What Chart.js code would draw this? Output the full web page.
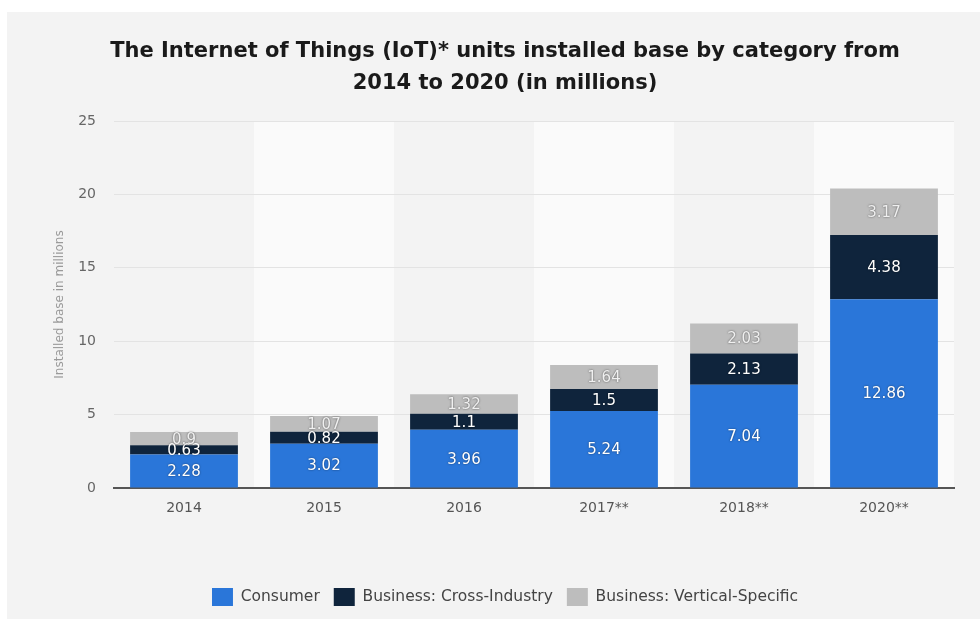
<!DOCTYPE html>
<html>
<head>
<meta charset="utf-8">
<script src="https://cdn.jsdelivr.net/npm/chart.js@4.4.1/dist/chart.umd.min.js"></script>
<style>
  html, body { margin: 0; padding: 0; background: #ffffff; }
  #wrap { width: 980px; height: 619px; position: relative; }
</style>
</head>
<body>
<div id="wrap"><canvas id="c" width="980" height="619"></canvas></div>
<script>
// ---- data ----
const categories = ['2014', '2015', '2016', '2017**', '2018**', '2020**'];
const consumer = [2.28, 3.02, 3.96, 5.24, 7.04, 12.86];
const crossIndustry = [0.63, 0.82, 1.1, 1.5, 2.13, 4.38];
const verticalSpecific = [0.9, 1.07, 1.32, 1.64, 2.03, 3.17];
const seriesNames = ['Consumer', 'Business: Cross-Industry', 'Business: Vertical-Specific'];
const yTicks = [0, 5, 10, 15, 20, 25];

const FONT = "'DejaVu Sans', sans-serif";

// background panel + alternating column bands
const bgPlugin = {
  id: 'bgPanel',
  beforeDraw(chart) {
    const ctx = chart.ctx;
    const area = chart.chartArea;
    const xs = chart.scales.x;
    ctx.save();
    ctx.fillStyle = '#ffffff';
    ctx.fillRect(0, 0, chart.width, chart.height);
    ctx.fillStyle = '#f3f3f3';
    ctx.fillRect(7, 12, chart.width - 7, chart.height - 12);
    const step = (area.right - area.left) / categories.length;
    ctx.fillStyle = '#fafafa';
    categories.forEach((c, i) => {
      if (i % 2 === 1) {
        const cx = xs.getPixelForValue(i);
        ctx.fillRect(cx - step / 2, area.top, step, area.bottom - area.top);
      }
    });
    ctx.restore();
  }
};

// value labels inside segments
const labelPlugin = {
  id: 'segLabels',
  afterDatasetsDraw(chart) {
    const ctx = chart.ctx;
    ctx.save();
    ctx.font = "15px " + FONT;
    ctx.textAlign = 'center';
    ctx.textBaseline = 'middle';
    chart.data.datasets.forEach((ds, di) => {
      const meta = chart.getDatasetMeta(di);
      meta.data.forEach((el, i) => {
        const v = ds.data[i];
        const y = (el.y + el.base) / 2;
        ctx.shadowColor = di === 2 ? 'rgba(60,60,60,0.9)' : 'rgba(0,0,0,0.55)';
        ctx.shadowBlur = 2;
        ctx.shadowOffsetX = 0;
        ctx.shadowOffsetY = 0;
        ctx.fillStyle = di === 2 ? '#f0f0f0' : '#ffffff';
        ctx.fillText(String(v), el.x, y + 1);
      });
    });
    ctx.restore();
  }
};

new Chart(document.getElementById('c'), {
  type: 'bar',
  data: {
    labels: categories,
    datasets: [
      { label: seriesNames[0], data: consumer, backgroundColor: '#2a76d9' },
      { label: seriesNames[1], data: crossIndustry, backgroundColor: '#0f243c' },
      { label: seriesNames[2], data: verticalSpecific, backgroundColor: '#bdbdbd' }
    ]
  },
  options: {
    responsive: false,
    animation: false,
    devicePixelRatio: 1,
    datasets: { bar: { categoryPercentage: 1.0, barPercentage: 0.77 } },
    layout: { padding: { top: 12, left: 30, right: 0, bottom: 3 } },
    plugins: {
      title: {
        display: true,
        text: ['The Internet of Things (IoT)* units installed base by category from', '2014 to 2020 (in millions)'],
        color: '#1a1a1a',
        font: { family: FONT, size: 21, weight: 'bold', lineHeight: '32px' },
        padding: { top: 24, bottom: 21 }
      },
      legend: {
        position: 'bottom',
        labels: {
          color: '#444444',
          font: { family: FONT, size: 15.5 },
          boxWidth: 21,
          boxHeight: 18,
          padding: 14
        }
      },
      tooltip: { enabled: false }
    },
    scales: {
      x: {
        stacked: true,
        grid: { display: false, drawTicks: false },
        border: { display: true, color: '#555555', width: 2 },
        ticks: { color: '#555555', font: { family: FONT, size: 14 }, padding: 12 },
        afterFit(scale) { scale.height = 86; }
      },
      y: {
        stacked: true,
        min: 0,
        max: 25,
        afterBuildTicks(scale) { scale.ticks = yTicks.map(v => ({ value: v })); },
        grid: {
          drawTicks: false,
          color: (ctx) => ctx.tick && ctx.tick.value === 0 ? 'rgba(0,0,0,0)' : '#e3e3e3',
          lineWidth: 1
        },
        border: { display: false },
        ticks: { color: '#666666', font: { family: FONT, size: 14 }, padding: 18 },
        title: {
          display: true,
          text: 'Installed base in millions',
          color: '#9a9a9a',
          font: { family: FONT, size: 12, lineHeight: 1.2 },
          padding: { top: 23, bottom: 0 }
        },
        afterFit(scale) { scale.width = 84; }
      },
      yRight: {
        type: 'linear',
        position: 'right',
        display: true,
        min: 0,
        max: 25,
        grid: { display: false, drawTicks: false },
        border: { display: false },
        ticks: { display: false },
        afterFit(scale) { scale.width = 26; }
      }
    }
  },
  plugins: [bgPlugin, labelPlugin]
});
</script>
</body>
</html>
